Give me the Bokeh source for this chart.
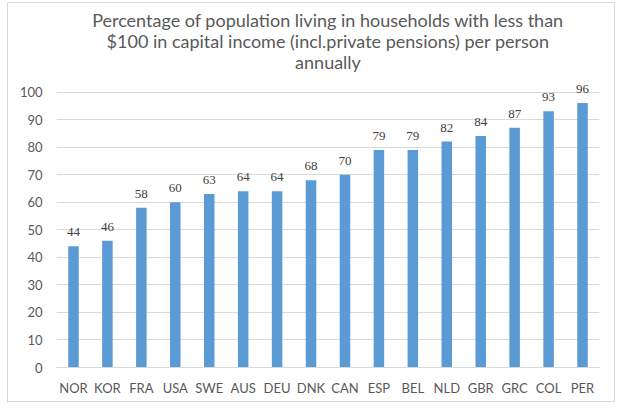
from bokeh.plotting import figure
from bokeh.models import ColumnDataSource, LabelSet, Title, FixedTicker, Range1d, FactorRange
from bokeh.embed import file_html
from bokeh.resources import INLINE

countries = ["NOR", "KOR", "FRA", "USA", "SWE", "AUS", "DEU", "DNK",
             "CAN", "ESP", "BEL", "NLD", "GBR", "GRC", "COL", "PER"]
values = [44, 46, 58, 60, 63, 64, 64, 68, 70, 79, 79, 82, 84, 87, 93, 96]
title_lines = [
    "Percentage of population living in households with less than",
    "$100 in capital income (incl.private pensions) per person",
    "annually",
]
y_ticks = list(range(0, 101, 10))

FONT = "Lato"
TXT = "#595959"

source = ColumnDataSource(data=dict(country=countries, value=values,
                                    label=[str(v) for v in values]))

p = figure(width=608, height=400, output_backend="svg", toolbar_location=None,
           x_range=FactorRange(factors=countries, range_padding=0),
           y_range=Range1d(0, 106),
           min_border_left=48, min_border_right=17, min_border_bottom=36,
           min_border_top=72)
p.title.visible = False

t = Title(text="\n".join(title_lines), align="center", text_align="center",
          text_font=FONT, text_font_size="18px",
          text_color=TXT, text_font_style="normal", standoff=5, offset=-18,
          text_line_height=0.95)
p.add_layout(t, "above")

p.vbar(x="country", top="value", width=0.31, source=source,
       fill_color="#5B9BD5", line_color=None)

labels = LabelSet(x="country", y="value", text="label", source=source,
                  text_align="center", text_baseline="alphabetic", y_offset=10,
                  text_font=FONT, text_font_size="13px", text_color="#404040")
p.add_layout(labels)

p.outline_line_color = None
p.xgrid.grid_line_color = None
p.ygrid.grid_line_color = "#D9D9D9"
p.yaxis.ticker = FixedTicker(ticks=y_ticks)
p.yaxis.axis_line_color = None
p.yaxis.major_tick_line_color = None
p.yaxis.minor_tick_line_color = None
p.yaxis.major_tick_out = 0
p.yaxis.major_label_standoff = 14
p.xaxis.axis_line_color = "#D9D9D9"
p.xaxis.major_tick_line_color = None
p.xaxis.major_tick_out = 0
p.xaxis.major_label_standoff = 12
for ax in (p.xaxis, p.yaxis):
    ax.major_label_text_font = FONT
    ax.major_label_text_font_size = "13px"
    ax.major_label_text_color = TXT

p.styles = {"border": "1px solid #D9D9D9", "margin-left": "7px", "margin-top": "2px"}

open("out.html", "w").write(file_html(p, INLINE))
